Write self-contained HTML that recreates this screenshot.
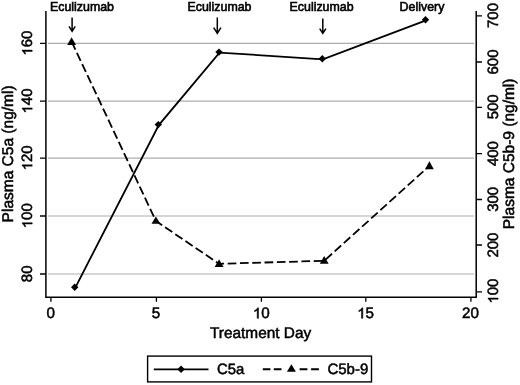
<!DOCTYPE html>
<html><head><meta charset="utf-8">
<style>
html,body{margin:0;padding:0;background:#fff;}
svg{display:block;will-change:transform;}
text{font-family:"Liberation Sans",sans-serif;fill:#000;stroke:#000;stroke-width:0.5px;}
.ann text{stroke-width:0.6px;}
</style></head>
<body>
<svg width="520" height="385" viewBox="0 0 520 385">
<rect width="520" height="385" fill="#fff"/>
<!-- gridlines -->
<g stroke="#adadad" stroke-width="1.2" fill="none">
<line x1="48" y1="43.4" x2="474" y2="43.4"/>
<line x1="48" y1="101.2" x2="474" y2="101.2"/>
<line x1="48" y1="158.1" x2="474" y2="158.1"/>
<line x1="48" y1="216.0" x2="474" y2="216.0"/>
<line x1="48" y1="274.0" x2="474" y2="274.0"/>
</g>
<!-- axes -->
<g stroke="#000" stroke-width="1.5" fill="none">
<path d="M45.9 11V297.2H476.2V11"/>
</g>
<g stroke="#000" stroke-width="1.3" fill="none">
<!-- left ticks -->
<path d="M40 43.4H46M40 101.2H46M40 158.1H46M40 216H46M40 274H46"/>
<!-- right ticks -->
<path d="M476 15.9H482M476 62.0H482M476 107.3H482M476 153.7H482M476 199.5H482M476 245.0H482M476 291.9H482"/>
<!-- bottom ticks -->
<path d="M50.9 297.2V301.8M156.4 297.2V301.8M261.4 297.2V301.8M365.8 297.2V301.8M470.9 297.2V301.8"/>
</g>
<!-- x tick labels -->
<g font-size="15.2" text-anchor="middle" style="text-rendering:geometricPrecision">
<text transform="translate(50.6 317.9)">0</text>
<text transform="translate(156 317.9)">5</text>
<g transform="translate(261.3 317.9)"><path transform="translate(-8.45 0.4) scale(0.01520 -0.01455)" d="M373 0H285V560Q253 530 201.5 500Q150 470 109 455V540Q183 575 238 624Q293 673 316 719H373Z" fill="#000" stroke="#000" stroke-width="33"/><text x="0.00" y="0" text-anchor="start">0</text></g>
<g transform="translate(365.6 317.9)"><path transform="translate(-8.45 0.4) scale(0.01520 -0.01455)" d="M373 0H285V560Q253 530 201.5 500Q150 470 109 455V540Q183 575 238 624Q293 673 316 719H373Z" fill="#000" stroke="#000" stroke-width="33"/><text x="0.00" y="0" text-anchor="start">5</text></g>
<text transform="translate(470.4 317.9)">20</text>
</g>
<text x="260.6" y="338.4" font-size="15.4" text-anchor="middle" style="text-rendering:geometricPrecision">Treatment Day</text>
<!-- left tick labels -->
<g font-size="15" style="text-rendering:geometricPrecision" text-anchor="middle">
<g transform="translate(32.2 43.2) rotate(-90)"><path transform="translate(-12.51 0) scale(0.01500 -0.01395)" d="M373 0H285V560Q253 530 201.5 500Q150 470 109 455V540Q183 575 238 624Q293 673 316 719H373Z" fill="#000" stroke="#000" stroke-width="33"/><text x="-4.17" y="0" text-anchor="start">60</text></g>
<g transform="translate(32.2 101) rotate(-90)"><path transform="translate(-12.51 0) scale(0.01500 -0.01395)" d="M373 0H285V560Q253 530 201.5 500Q150 470 109 455V540Q183 575 238 624Q293 673 316 719H373Z" fill="#000" stroke="#000" stroke-width="33"/><text x="-4.17" y="0" text-anchor="start">40</text></g>
<g transform="translate(32.2 157.9) rotate(-90)"><path transform="translate(-12.51 0) scale(0.01500 -0.01395)" d="M373 0H285V560Q253 530 201.5 500Q150 470 109 455V540Q183 575 238 624Q293 673 316 719H373Z" fill="#000" stroke="#000" stroke-width="33"/><text x="-4.17" y="0" text-anchor="start">20</text></g>
<g transform="translate(32.2 215.8) rotate(-90)"><path transform="translate(-12.51 0) scale(0.01500 -0.01395)" d="M373 0H285V560Q253 530 201.5 500Q150 470 109 455V540Q183 575 238 624Q293 673 316 719H373Z" fill="#000" stroke="#000" stroke-width="33"/><text x="-4.17" y="0" text-anchor="start">00</text></g>
<text transform="translate(32.2 273.8) rotate(-90)">80</text>
</g>
<text style="text-rendering:geometricPrecision" transform="translate(12.8 153.9) rotate(-90)" font-size="15.5" text-anchor="middle">Plasma C5a (ng/ml)</text>
<!-- right tick labels -->
<g font-size="15" style="text-rendering:geometricPrecision" text-anchor="middle">
<text transform="translate(498.1 15.5) rotate(-90)">700</text>
<text transform="translate(498.1 62.0) rotate(-90)">600</text>
<text transform="translate(498.1 106.8) rotate(-90)">500</text>
<text transform="translate(498.1 153.6) rotate(-90)">400</text>
<text transform="translate(498.1 199.3) rotate(-90)">300</text>
<text transform="translate(498.1 245.1) rotate(-90)">200</text>
<g transform="translate(498.1 291.1) rotate(-90)"><path transform="translate(-12.51 0) scale(0.01500 -0.01395)" d="M373 0H285V560Q253 530 201.5 500Q150 470 109 455V540Q183 575 238 624Q293 673 316 719H373Z" fill="#000" stroke="#000" stroke-width="33"/><text x="-4.17" y="0" text-anchor="start">00</text></g>
</g>
<text style="text-rendering:geometricPrecision" transform="translate(513.8 153.9) rotate(-90)" font-size="15.5" text-anchor="middle">Plasma C5b-9 (ng/ml)</text>
<!-- annotations -->
<g class="ann" font-size="12.4" text-anchor="middle">
<text x="82" y="11.3">Eculizumab</text>
<text x="219.5" y="11.3">Eculizumab</text>
<text x="321.6" y="11.3">Eculizumab</text>
<text x="422" y="11.3">Delivery</text>
</g>
<g stroke="#000" stroke-width="1.5" fill="none" stroke-linejoin="miter">
<path d="M72.1 17.4V31M69 26.4L72.1 31.3L75.2 26.4"/>
<path d="M217.3 17.4V33M213.7 27.7L217.3 33.3L220.9 27.7"/>
<path d="M322.8 18.4V33M319.7 28.6L322.8 33.3L325.9 28.6"/>
</g>
<!-- C5b-9 dashed -->
<polyline points="71.7,41.8 155.9,221 219,263.8 324.2,260.8 429.3,166" fill="none" stroke="#000" stroke-width="1.8" stroke-dasharray="8.7 3.6"/>
<g fill="#000">
<path d="M71.6 37.2L76.0 44.9H67.2z"/>
<path d="M155.9 216.6L160.3 223.7H151.5z"/>
<path d="M219.1 259.3L223.5 267.1H214.7z"/>
<path d="M324.2 256L328.6 263.8H319.8z"/>
<path d="M429.4 161.3L433.8 169.3H425.0z"/>
</g>
<!-- C5a solid -->
<polyline points="75.2,287.8 158.8,125.1 219.5,52.6 322.8,59.3 426.0,20.3" fill="none" stroke="#000" stroke-width="1.8"/>
<g fill="#000">
<path d="M74.7 283.6l3.7 3.7l-3.7 3.7l-3.7-3.7z"/>
<path d="M158.3 120.9l3.7 3.7l-3.7 3.7l-3.7-3.7z"/>
<path d="M219 48.4l3.7 3.7l-3.7 3.7l-3.7-3.7z"/>
<path d="M322.3 55.1l3.7 3.7l-3.7 3.7l-3.7-3.7z"/>
<path d="M425.5 16.1l3.7 3.7l-3.7 3.7l-3.7-3.7z"/>
</g>
<!-- legend -->
<rect x="147.6" y="356.1" width="223.9" height="25.8" fill="#fff" stroke="#000" stroke-width="1.4"/>
<line x1="153.8" y1="369.3" x2="208.5" y2="369.3" stroke="#000" stroke-width="1.7"/>
<path d="M181.1 365.5l3.7 3.7l-3.7 3.7l-3.7-3.7z" fill="#000"/>
<text x="217" y="374.2" font-size="14.9" style="text-rendering:geometricPrecision">C5a</text>
<path d="M262.8 369.3H270.4M273.8 369.3H281.5M299.6 369.3H307.4M311.1 369.3H318.9" stroke="#000" stroke-width="1.9"/>
<path d="M291.4 364.2l4.5 7.6h-9z" fill="#000"/>
<text x="327.4" y="374.2" font-size="15" style="text-rendering:geometricPrecision">C5b-9</text>
</svg>
</body></html>
